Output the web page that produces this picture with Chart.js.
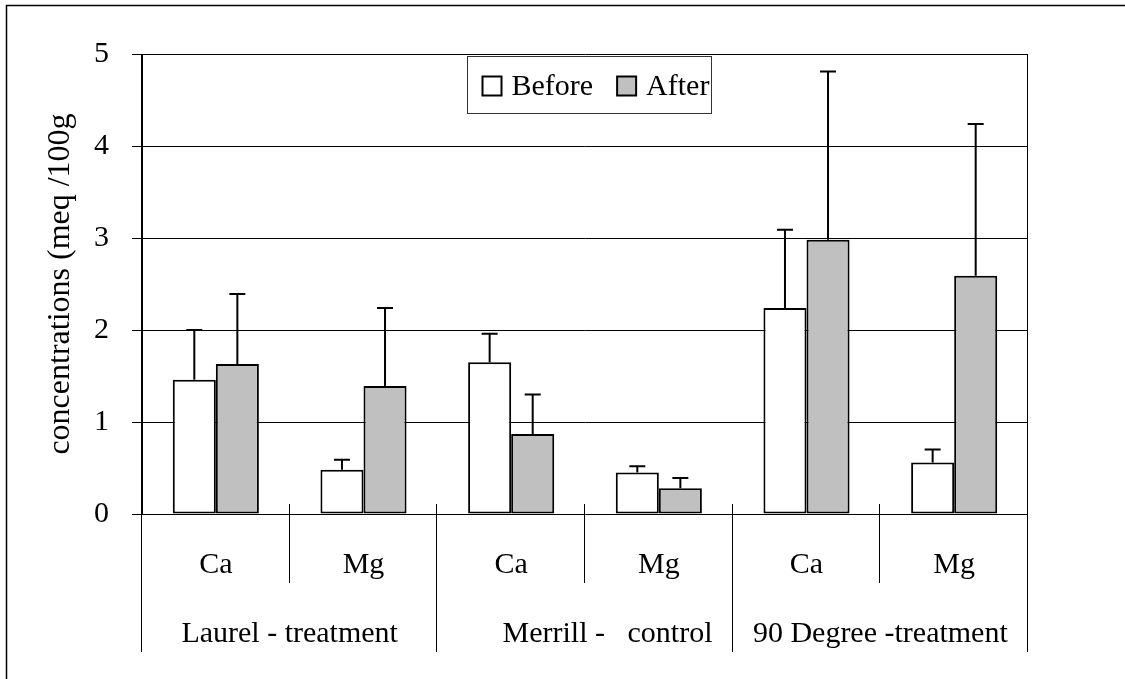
<!DOCTYPE html>
<html>
<head>
<meta charset="utf-8">
<title>Ca and Mg concentrations before and after</title>
<script src="https://cdn.jsdelivr.net/npm/chart.js@4.4.1/dist/chart.umd.min.js"></script>
<style>
  html, body { margin: 0; padding: 0; background: #ffffff; }
  #wrap { width: 1125px; height: 679px; }
</style>
</head>
<body>
<div id="wrap"><canvas id="chart" width="1125" height="679"></canvas></div>
<script>
// Nutrient categories along the x axis, grouped by site
const categories = ['Ca', 'Mg', 'Ca', 'Mg', 'Ca', 'Mg'];
const sites = ['Laurel - treatment', '      Merrill -   control', '90 Degree -treatment'];

// Mean concentrations (meq/100g)
const beforeMeans = [1.46, 0.48, 1.65, 0.45, 2.24, 0.56];
const afterMeans  = [1.63, 1.39, 0.87, 0.28, 2.98, 2.59];

// Upper error amounts (meq/100g)
const beforeErr = [0.54, 0.11, 0.31, 0.07, 0.85, 0.14];
const afterErr  = [0.76, 0.85, 0.43, 0.11, 1.83, 1.65];

// Value axis ticks
const yTicks = [0, 1, 2, 3, 4, 5];

const SERIF = "'Liberation Serif', 'Times New Roman', serif";
const FONT_SIZE = 30;
const TITLE_SIZE = 32;

// Upward error bars with caps
const errorBars = {
  id: 'errorBars',
  afterDatasetsDraw(chart) {
    const { ctx } = chart;
    const y = chart.scales.y;
    ctx.save();
    ctx.strokeStyle = '#000';
    ctx.lineWidth = 2;
    chart.data.datasets.forEach((ds, di) => {
      const meta = chart.getDatasetMeta(di);
      meta.data.forEach((bar, i) => {
        const top = y.getPixelForValue(ds.data[i] + ds.errors[i]);
        ctx.beginPath();
        ctx.moveTo(bar.x, bar.y);
        ctx.lineTo(bar.x, top);
        ctx.moveTo(bar.x - 8, top);
        ctx.lineTo(bar.x + 8, top);
        ctx.stroke();
      });
    });
    ctx.restore();
  }
};

// Two-level category axis, plot frame, legend box and page border
const frameAndLabels = {
  id: 'frameAndLabels',
  afterDraw(chart) {
    const { ctx, chartArea: area } = chart;
    const x = chart.scales.x;
    const n = categories.length;
    const centers = categories.map((_, i) => x.getPixelForValue(i));
    const step = centers[1] - centers[0];
    const edges = [];
    for (let i = 0; i <= n; i++) edges.push(centers[0] - step / 2 + i * step);

    const innerBottom = area.bottom + 69;
    const outerBottom = area.bottom + 138;
    const tickTop = area.bottom - 10;

    ctx.save();
    ctx.strokeStyle = '#000';
    ctx.lineWidth = 1;

    // category separators
    edges.forEach((ex, i) => {
      const px = Math.round(ex) - 0.5;
      const bottom = (i % 2 === 0) ? outerBottom : innerBottom;
      const top = (i === 0 || i === n) ? area.top : tickTop;
      ctx.beginPath();
      ctx.moveTo(px, top);
      ctx.lineTo(px, bottom);
      ctx.stroke();
    });

    // category and site labels
    ctx.fillStyle = '#000';
    ctx.font = FONT_SIZE + 'px ' + SERIF;
    ctx.textAlign = 'center';
    ctx.textBaseline = 'alphabetic';
    categories.forEach((c, i) => ctx.fillText(c, centers[i], area.bottom + 59));
    sites.forEach((s, g) => {
      const cx = (edges[g * 2] + edges[g * 2 + 2]) / 2;
      ctx.fillText(s, cx, area.bottom + 128);
    });

    // legend box inside the plot
    const items = chart.data.datasets.map(d => ({ label: d.label, fill: d.backgroundColor }));
    const boxL = 467.5, boxT = 56.5, boxW = 244, boxH = 57;
    ctx.fillStyle = '#fff';
    ctx.fillRect(boxL, boxT, boxW, boxH);
    ctx.strokeStyle = '#333';
    ctx.lineWidth = 1;
    ctx.strokeRect(boxL, boxT, boxW, boxH);
    ctx.textAlign = 'left';
    let lx = boxL + 15;
    const sw = 19;
    items.forEach(it => {
      ctx.fillStyle = it.fill;
      ctx.fillRect(lx, boxT + 20, sw, sw);
      ctx.strokeStyle = '#000';
      ctx.lineWidth = 2;
      ctx.strokeRect(lx, boxT + 20, sw, sw);
      ctx.fillStyle = '#000';
      ctx.fillText(it.label, lx + sw + 10, boxT + 38);
      lx += sw + 10 + ctx.measureText(it.label).width + 24;
    });

    // page border along the top and left edges
    ctx.lineWidth = 1.5;
    ctx.strokeStyle = '#000';
    ctx.beginPath();
    ctx.moveTo(6.5, chart.height);
    ctx.lineTo(6.5, 5.5);
    ctx.lineTo(chart.width, 5.5);
    ctx.stroke();
    ctx.restore();
  }
};

new Chart(document.getElementById('chart'), {
  type: 'bar',
  data: {
    labels: categories,
    datasets: [
      {
        label: 'Before',
        data: beforeMeans,
        errors: beforeErr,
        backgroundColor: '#ffffff',
        borderColor: '#000000',
        borderWidth: 2,
        borderSkipped: false
      },
      {
        label: 'After',
        data: afterMeans,
        errors: afterErr,
        backgroundColor: '#c0c0c0',
        borderColor: '#000000',
        borderWidth: 2,
        borderSkipped: false
      }
    ]
  },
  options: {
    responsive: false,
    animation: false,
    devicePixelRatio: 1,
    layout: { padding: { left: 0, top: 54, right: 97, bottom: 0 } },
    datasets: { bar: { categoryPercentage: 0.583, barPercentage: 1.0 } },
    plugins: {
      legend: { display: false },
      tooltip: { enabled: false }
    },
    scales: {
      x: {
        grid: { display: false },
        border: { display: false },
        ticks: { display: false },
        afterFit(scale) { scale.height = 165; }
      },
      y: {
        min: 0,
        max: 5,
        afterBuildTicks(scale) { scale.ticks = yTicks.map(v => ({ value: v })); },
        afterFit(scale) { scale.width = 142; },
        grid: { color: '#000', lineWidth: 1, tickLength: 10, drawTicks: true },
        border: { display: true, color: '#000', width: 1 },
        ticks: {
          color: '#000',
          padding: 23,
          font: { family: SERIF, size: FONT_SIZE }
        },
        title: {
          display: true,
          text: 'concentrations (meq /100g',
          color: '#000',
          padding: { top: 41, bottom: 0 },
          font: { family: SERIF, size: TITLE_SIZE }
        }
      }
    }
  },
  plugins: [errorBars, frameAndLabels]
});
</script>
</body>
</html>
